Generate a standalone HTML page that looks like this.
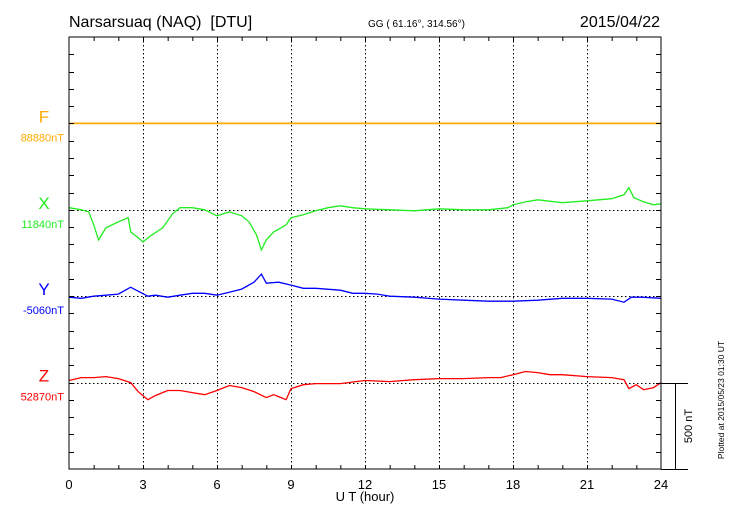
<!DOCTYPE html>
<html><head><meta charset="utf-8"><style>
html,body{margin:0;padding:0;background:#fff;}
svg{display:block;font-family:"Liberation Sans",sans-serif;}
</style></head><body>
<svg id="c" width="730" height="520" viewBox="0 0 730 520">
<text x="69" y="27" font-size="16">Narsarsuaq (NAQ)&#160;&#160;[DTU]</text>
<text x="368" y="27" font-size="10">GG ( 61.16°, 314.56°)</text>
<text x="660" y="27" font-size="16" text-anchor="end">2015/04/22</text>
<g id="grid"></g>
<g id="series"></g>
<rect x="69" y="37" width="592" height="432" fill="none" stroke="#000" stroke-width="1"/>
<g id="ticks"></g>
<text x="365" y="501" font-size="13" text-anchor="middle">U T (hour)</text>
<line x1="661" y1="383.5" x2="688" y2="383.5" stroke="#000"/>
<line x1="661" y1="469.5" x2="688" y2="469.5" stroke="#000"/>
<line x1="675.5" y1="383" x2="675.5" y2="469" stroke="#000"/>
<text transform="translate(692,426) rotate(-90)" font-size="11" text-anchor="middle">500 nT</text>
<text transform="translate(724,400) rotate(-90)" font-size="8.5" text-anchor="middle">Plotted at 2015/05/23 01:30 UT</text>
</svg>
<script>
const xTicks=[0,3,6,9,12,15,18,21,24];
const compNames=["F","X","Y","Z"];
const baseLabels=["88880nT","11840nT","-5060nT","52870nT"];
const compColors=["#ffaa00","#22ee22","#0000ff","#ff0000"];
const fHours=[0,24];
const fVals=[0,0];
const xHours=[0,0.5,0.8,1.0,1.2,1.5,2.0,2.4,2.5,2.8,3.0,3.3,3.8,4.2,4.5,5,5.5,6,6.5,7.0,7.3,7.6,7.8,8.0,8.3,8.6,8.8,9.0,9.5,10,10.5,11,11.5,12,13,14,15,16,17,17.8,18,18.5,19,20,21,22,22.5,22.7,22.9,23.3,23.7,24];
const xVals=[12,0,-12,-87,-174,-104,-70,-46,-128,-162,-186,-151,-104,-23,12,12,0,-35,-12,-35,-70,-145,-232,-174,-128,-104,-87,-46,-29,-6,12,23,12,6,0,-6,6,0,0,12,29,46,58,41,52,64,87,128,70,46,29,35];
const yHours=[0,0.5,1,1.5,2,2.5,2.8,3.2,3.5,4,4.5,5,5.5,6,6.5,7,7.5,7.8,8,8.5,9,9.5,10,11,11.5,12,12.5,13,14,15,16,17,18,19,20,21,22,22.5,22.8,23.2,24];
const yVals=[-6,-12,0,6,12,52,29,0,6,-6,6,17,17,6,23,41,81,128,75,81,64,46,46,35,17,17,12,0,-6,-17,-23,-29,-29,-23,-12,-12,-17,-35,-6,-6,-12];
const zHours=[0,0.5,1,1.5,2,2.5,2.8,3.2,3.5,4,4.5,5,5.5,6,6.5,7,7.5,8,8.3,8.6,8.8,9,9.5,10,11,12,13,14,15,16,17,17.5,18,18.5,19,19.5,20,21,22,22.5,22.7,23,23.3,23.7,24];
const zVals=[12,29,29,35,23,0,-52,-99,-75,-46,-46,-58,-70,-46,-17,-29,-52,-87,-70,-87,-99,-35,-12,-6,-6,12,6,17,23,23,29,29,46,64,58,46,46,35,29,17,-35,-12,-41,-29,0];

const NS="http://www.w3.org/2000/svg";
const X0=69,X1=661,TOP=37,BOT=469,STEP=86.4/5;
const bases=[123.4,209.8,296.2,382.6];
const pxPerNT=86.4/500;
function sx(h){return X0+(X1-X0)*h/24;}
function sy(i,v){return bases[i]-v*pxPerNT;}
function mk(tag,attrs,parent){const e=document.createElementNS(NS,tag);for(const k in attrs)e.setAttribute(k,attrs[k]);parent.appendChild(e);return e;}
const grid=document.getElementById('grid'),ticks=document.getElementById('ticks'),series=document.getElementById('series');
xTicks.forEach(h=>{
  if(h>0&&h<24){const l=mk('line',{x1:sx(h)+0.5,x2:sx(h)+0.5,y1:TOP,y2:BOT,stroke:'#000','stroke-dasharray':'1.5,2.5'},grid);
  
  }
  const t=mk('text',{x:sx(h),y:489,'font-size':13,'text-anchor':'middle'},ticks);t.textContent=h;
  
  
});
for(let h=1;h<24;h++){
  mk('line',{x1:sx(h)+0.5,x2:sx(h)+0.5,y1:BOT,y2:BOT-4,stroke:'#000'},ticks);
  mk('line',{x1:sx(h)+0.5,x2:sx(h)+0.5,y1:TOP,y2:TOP+4,stroke:'#000'},ticks);
}
for(let k=1;k<25;k++){const y=Math.round(TOP+k*STEP)+0.5;
  mk('line',{x1:X0,x2:X0+5,y1:y,y2:y,stroke:'#000'},ticks);
  mk('line',{x1:X1-5,x2:X1,y1:y,y2:y,stroke:'#000'},ticks);}
const hs=[fHours,xHours,yHours,zHours],vs=[fVals,xVals,yVals,zVals];
compNames.forEach((n,i)=>{
  const b=Math.round(bases[i])+0.5;
  const g=mk('line',{x1:X0,x2:X1,y1:b,y2:b,stroke:'#000','stroke-dasharray':'1.5,2.5'},grid);
  
  
  const t=mk('text',{x:44,y:bases[i]-1,'font-size':17,'text-anchor':'middle',fill:compColors[i]},ticks);t.textContent=n;
  
  
  const t2=mk('text',{x:64,y:bases[i]+18,'font-size':11,'text-anchor':'end',fill:compColors[i]},ticks);t2.textContent=baseLabels[i];
  
  
  const d=hs[i].map((h,j)=>(j?'L':'M')+sx(h).toFixed(1)+','+sy(i,vs[i][j]).toFixed(1)).join('');
  const p=mk('path',{d:d,fill:'none',stroke:compColors[i],'stroke-width':i===0?1.8:1.3},series);
  
  
});
</script>
</body></html>
